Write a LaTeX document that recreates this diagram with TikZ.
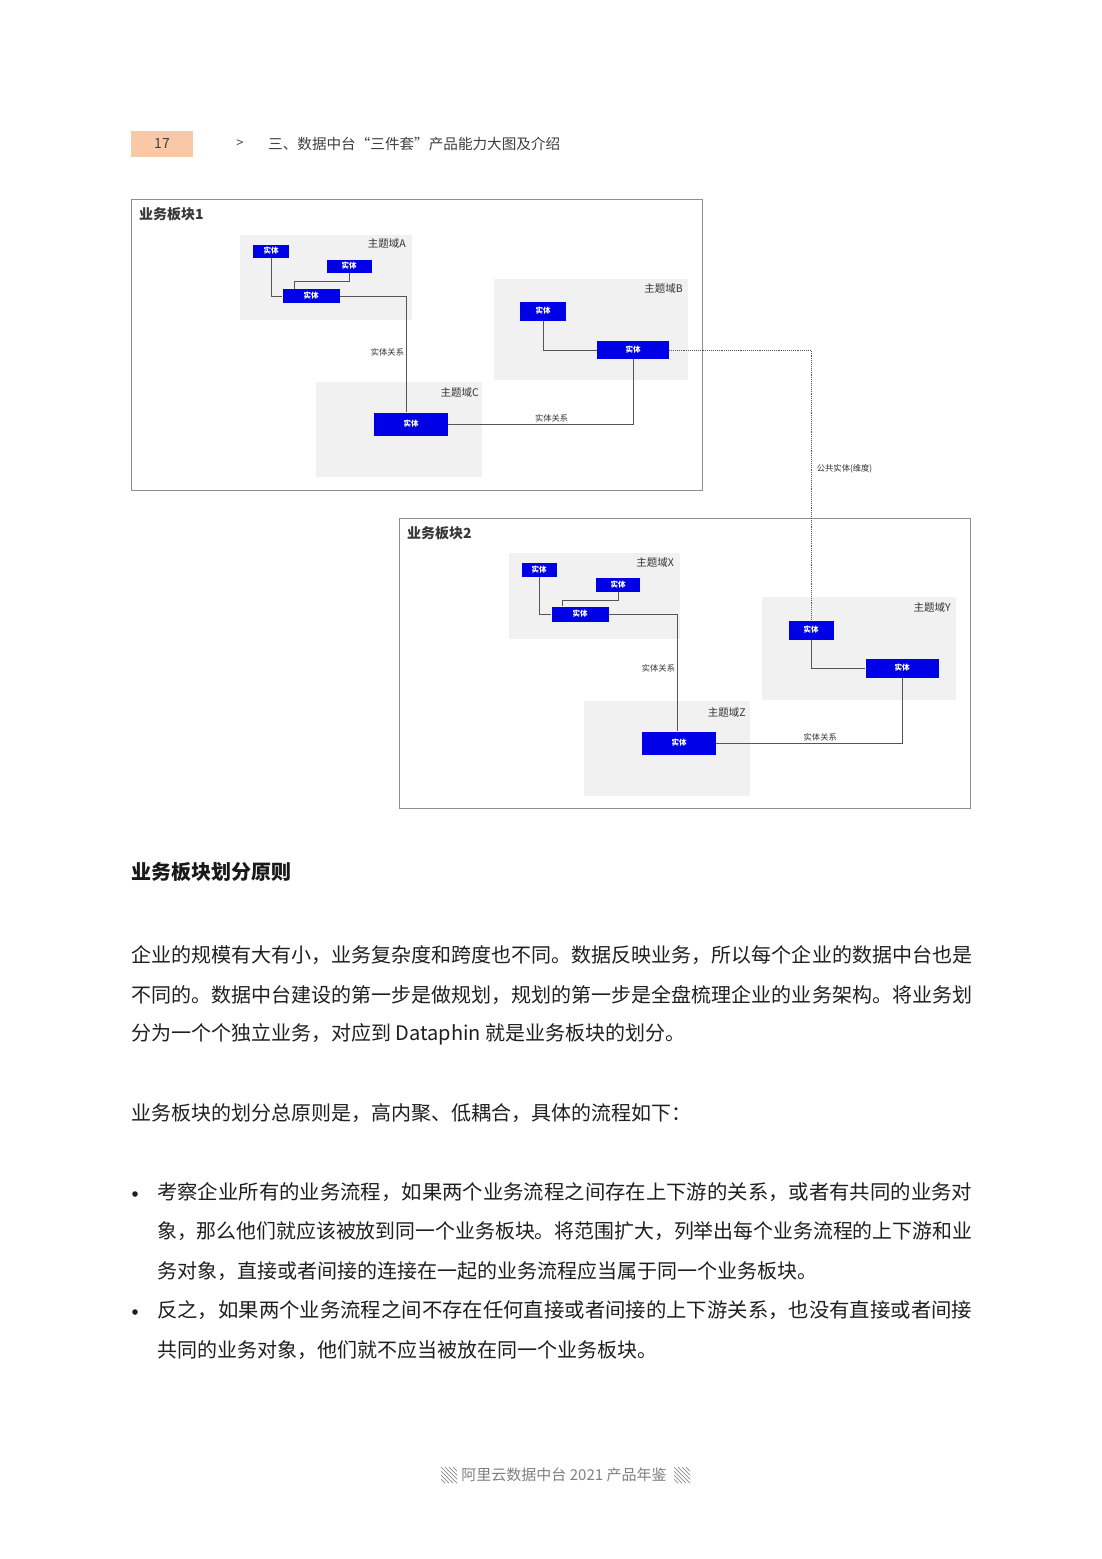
\documentclass[tikz,border=0pt]{standalone}
\usepackage{fontspec}
\usepackage{graphicx}
\setmainfont{Noto Sans CJK SC}
\newcommand\stretchrow[2]{\resizebox{#1}{\height}{#2}}
\definecolor{entityblue}{HTML}{0000E6}
\definecolor{areagray}{HTML}{F1F1F1}
\definecolor{framegray}{HTML}{8E8E8E}
\definecolor{linkgray}{HTML}{555555}
\definecolor{pagepeach}{HTML}{F9C8A6}
\tikzset{
  entity/.style={fill=entityblue, text=white, inner sep=0pt, font=\bfseries\fontsize{7.5}{8}\selectfont},
  topicarea/.style={fill=areagray},
  panel/.style={draw=framegray, line width=0.8pt},
  link/.style={draw=linkgray, line width=0.9pt},
  areatag/.style={anchor=east, inner sep=0pt, font=\fontsize{10.5}{12}\selectfont, text=black!80},
  paneltag/.style={anchor=west, inner sep=0pt, font=\bfseries\fontsize{14}{16}\selectfont, text=black!78},
  linktag/.style={font=\fontsize{8.3}{10}\selectfont, text=black!80, inner sep=1.5pt},
  bodyline/.style={anchor=west, inner sep=0pt, font=\fontsize{20}{24}\selectfont, text=black!88},
}
\begin{document}
\begin{tikzpicture}[x=1pt, y=-1pt]
  \useasboundingbox[fill=white] (0,0) rectangle (1102,1559);

  % page header
  \fill[pagepeach] (131,131) rectangle (193,157);
  \node[font=\fontsize{14}{16}\selectfont, text=black!75] (pagenum) at (162,144) {17};
  \node[font=\fontsize{13}{15}\selectfont, text=black!70] (crumb) at (240,144) {>};
  \node[anchor=west, inner sep=0pt, font=\fontsize{14.6}{17}\selectfont, text=black!75] (chapter) at (268,144)
    {三、数据中台“三件套”产品能力大图及介绍};

  % business panel 1
  \draw[panel] (131,199) rectangle (702,490);
  \node[paneltag] (panel1) at (139,214) {业务板块1};
  \fill[topicarea] (240,235) rectangle (412,320);
  \fill[topicarea] (494,279) rectangle (688,380);
  \fill[topicarea] (316,382) rectangle (482,477);
  \node[areatag] (areaA) at (406,244) {主题域A};
  \node[areatag] (areaB) at (683,289) {主题域B};
  \node[areatag] (areaC) at (479,393) {主题域C};

  \node[entity, minimum width=36pt, minimum height=13pt] (a1) at (271,251) {实体};
  \node[entity, minimum width=45pt, minimum height=13pt] (a2) at (349,266) {实体};
  \node[entity, minimum width=57pt, minimum height=14pt] (a3) at (311,296) {实体};
  \node[entity, minimum width=46pt, minimum height=19pt] (b1) at (543,311) {实体};
  \node[entity, minimum width=72pt, minimum height=18pt] (b2) at (633,350) {实体};
  \node[entity, minimum width=74pt, minimum height=23pt] (c1) at (411,424) {实体};

  \draw[link] (a1.south) |- (a3.west);
  \draw[link] (a2.south) -- ++(0,9) -| ([xshift=-17pt]a3.north);
  \draw[link] (a3.east) -| node[linktag, pos=0.74, left] {实体关系} ([xshift=-5pt]c1.north);
  \draw[link] (b1.south) |- (b2.west);
  \draw[link] (b2.south) |- node[linktag, pos=0.72, above] {实体关系} (c1.east);

  % business panel 2
  \draw[panel] (399,518) rectangle (970,808);
  \node[paneltag] (panel2) at (407,533) {业务板块2};
  \fill[topicarea] (509,553) rectangle (680,639);
  \fill[topicarea] (762,597) rectangle (956,700);
  \fill[topicarea] (584,701) rectangle (750,796);
  \node[areatag] (areaX) at (674,563) {主题域X};
  \node[areatag] (areaY) at (951,608) {主题域Y};
  \node[areatag] (areaZ) at (746,712) {主题域Z};

  \node[entity, minimum width=35pt, minimum height=14pt] (x1) at (539,570) {实体};
  \node[entity, minimum width=44pt, minimum height=14pt] (x2) at (618,585) {实体};
  \node[entity, minimum width=57pt, minimum height=15pt] (x3) at (580,614) {实体};
  \node[entity, minimum width=45pt, minimum height=19pt] (y1) at (811,630) {实体};
  \node[entity, minimum width=73pt, minimum height=19pt] (y2) at (902,668) {实体};
  \node[entity, minimum width=74pt, minimum height=23pt] (z1) at (679,743) {实体};

  \draw[link] (x1.south) |- (x3.west);
  \draw[link] (x2.south) -- ++(0,8) -| ([xshift=-18pt]x3.north);
  \draw[link] (x3.east) -| node[linktag, pos=0.73, left] {实体关系} ([xshift=-2pt]z1.north);
  \draw[link] (y1.south) |- (y2.west);
  \draw[link] (y2.south) |- node[linktag, pos=0.72, above] {实体关系} (z1.east);

  % shared entity across panels
  \draw[link, densely dotted, line width=0.7pt] (b2.east) -| node[linktag, pos=0.72, right, xshift=4pt] {公共实体(维度)} (y1.north);

  % text below the figure
  \node[anchor=west, inner sep=0pt, font=\bfseries\fontsize{20}{24}\selectfont, text=black!90] (heading) at (131,872) {业务板块划分原则};
  \node[bodyline] (para1) at (131,955) {\stretchrow{841pt}{企业的规模有大有小，业务复杂度和跨度也不同。数据反映业务，所以每个企业的数据中台也是}};
  \node[bodyline] (para2) at (131,995) {\stretchrow{841pt}{不同的。数据中台建设的第一步是做规划，规划的第一步是全盘梳理企业的业务架构。将业务划}};
  \node[bodyline] (para3) at (131,1034) {分为一个个独立业务，对应到 Dataphin 就是业务板块的划分。};
  \node[bodyline] (para4) at (131,1113) {业务板块的划分总原则是，高内聚、低耦合，具体的流程如下：};
  \fill[black!88] (135,1194) circle (2.8pt);
  \node[bodyline] (item1) at (157,1192) {\stretchrow{815pt}{考察企业所有的业务流程，如果两个业务流程之间存在上下游的关系，或者有共同的业务对}};
  \node[bodyline] (item1b) at (157,1231) {\stretchrow{815pt}{象，那么他们就应该被放到同一个业务板块。将范围扩大，列举出每个业务流程的上下游和业}};
  \node[bodyline] (item1c) at (157,1271) {务对象，直接或者间接的连接在一起的业务流程应当属于同一个业务板块。};
  \fill[black!88] (135,1312) circle (2.8pt);
  \node[bodyline] (item2) at (157,1310) {\stretchrow{815pt}{反之，如果两个业务流程之间不存在任何直接或者间接的上下游关系，也没有直接或者间接}};
  \node[bodyline] (item2b) at (157,1350) {共同的业务对象，他们就不应当被放在同一个业务板块。};

  % footer
  \foreach \hx in {441,674} {
    \begin{scope}
      \clip (\hx,1467) rectangle ++(16,16);
      \foreach \k in {-16,-12,...,16}
        \draw[black!45, line width=0.7pt] (\hx+\k,1467) -- ++(16,16);
    \end{scope}
  }
  \node[font=\fontsize{15}{17}\selectfont, text=black!50] (footer) at (564,1475) {阿里云数据中台 2021 产品年鉴};
\end{tikzpicture}
\end{document}
